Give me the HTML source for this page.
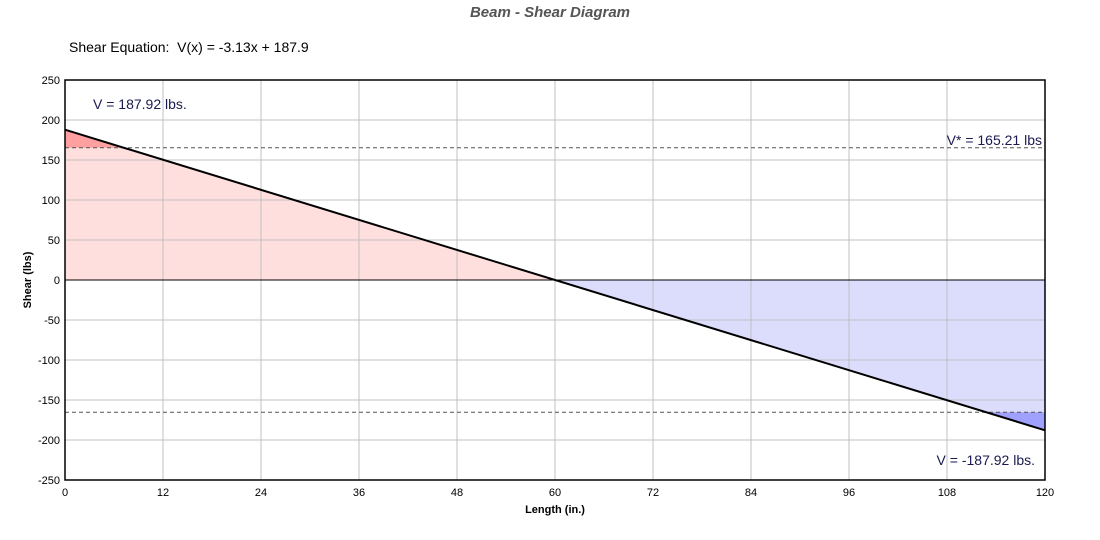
<!DOCTYPE html>
<html><head><style>body{margin:0;background:#fff}svg{display:block;font-family:"Liberation Sans",sans-serif}</style></head><body>
<svg width="1100" height="540" xmlns="http://www.w3.org/2000/svg">
<text x="550" y="17" text-anchor="middle" font-size="15" font-weight="bold" font-style="italic" fill="#555">Beam - Shear Diagram</text>
<text x="69" y="52" font-size="14" fill="#000" xml:space="preserve" style="white-space:pre">Shear Equation:  V(x) = -3.13x + 187.9</text>
<polygon points="65,129.7 555,280 65,280" fill="#ffdede"/>
<polygon points="555,280 1045,430.3 1045,280" fill="#dcdcfc"/>
<polygon points="65,129.7 124.2,147.8 65,147.8" fill="#ffa0a0"/>
<polygon points="985.8,412.2 1045,430.3 1045,412.2" fill="#a0a0ff"/>
<g stroke="#c0c0c0" stroke-width="1">
<line x1="163" y1="80" x2="163" y2="480"/><line x1="261" y1="80" x2="261" y2="480"/><line x1="359" y1="80" x2="359" y2="480"/><line x1="457" y1="80" x2="457" y2="480"/><line x1="555" y1="80" x2="555" y2="480"/><line x1="653" y1="80" x2="653" y2="480"/><line x1="751" y1="80" x2="751" y2="480"/><line x1="849" y1="80" x2="849" y2="480"/><line x1="947" y1="80" x2="947" y2="480"/>
<line x1="65" y1="120" x2="1045" y2="120"/><line x1="65" y1="160" x2="1045" y2="160"/><line x1="65" y1="200" x2="1045" y2="200"/><line x1="65" y1="240" x2="1045" y2="240"/><line x1="65" y1="320" x2="1045" y2="320"/><line x1="65" y1="360" x2="1045" y2="360"/><line x1="65" y1="400" x2="1045" y2="400"/><line x1="65" y1="440" x2="1045" y2="440"/>
</g>
<line x1="65" y1="280" x2="1045" y2="280" stroke="#000" stroke-width="1"/>
<line x1="65" y1="147.8" x2="1045" y2="147.8" stroke="#555" stroke-dasharray="4,3"/>
<line x1="65" y1="412.2" x2="1045" y2="412.2" stroke="#555" stroke-dasharray="4,3"/>
<line x1="65" y1="129.7" x2="1045" y2="430.3" stroke="#000" stroke-width="2"/>
<rect x="65" y="80" width="980" height="400" fill="none" stroke="#000" stroke-width="1.5"/>
<g font-size="11" fill="#000" text-anchor="end">
<text x="60" y="84">250</text><text x="60" y="124">200</text><text x="60" y="164">150</text><text x="60" y="204">100</text><text x="60" y="244">50</text><text x="60" y="284">0</text><text x="60" y="324">-50</text><text x="60" y="364">-100</text><text x="60" y="404">-150</text><text x="60" y="444">-200</text><text x="60" y="484">-250</text>
</g>
<g font-size="11" fill="#000" text-anchor="middle">
<text x="65" y="496">0</text><text x="163" y="496">12</text><text x="261" y="496">24</text><text x="359" y="496">36</text><text x="457" y="496">48</text><text x="555" y="496">60</text><text x="653" y="496">72</text><text x="751" y="496">84</text><text x="849" y="496">96</text><text x="947" y="496">108</text><text x="1045" y="496">120</text>
</g>
<text x="555" y="513" font-size="11" font-weight="bold" text-anchor="middle">Length (in.)</text>
<text transform="translate(31,280) rotate(-90)" font-size="11" font-weight="bold" text-anchor="middle">Shear (lbs)</text>
<text x="93" y="109" font-size="14" fill="#1a1a50">V = 187.92 lbs.</text>
<text x="1042" y="145" font-size="14" fill="#1a1a50" text-anchor="end">V* = 165.21 lbs</text>
<text x="1035" y="465" font-size="14" fill="#1a1a50" text-anchor="end">V = -187.92 lbs.</text>
</svg>
</body></html>
